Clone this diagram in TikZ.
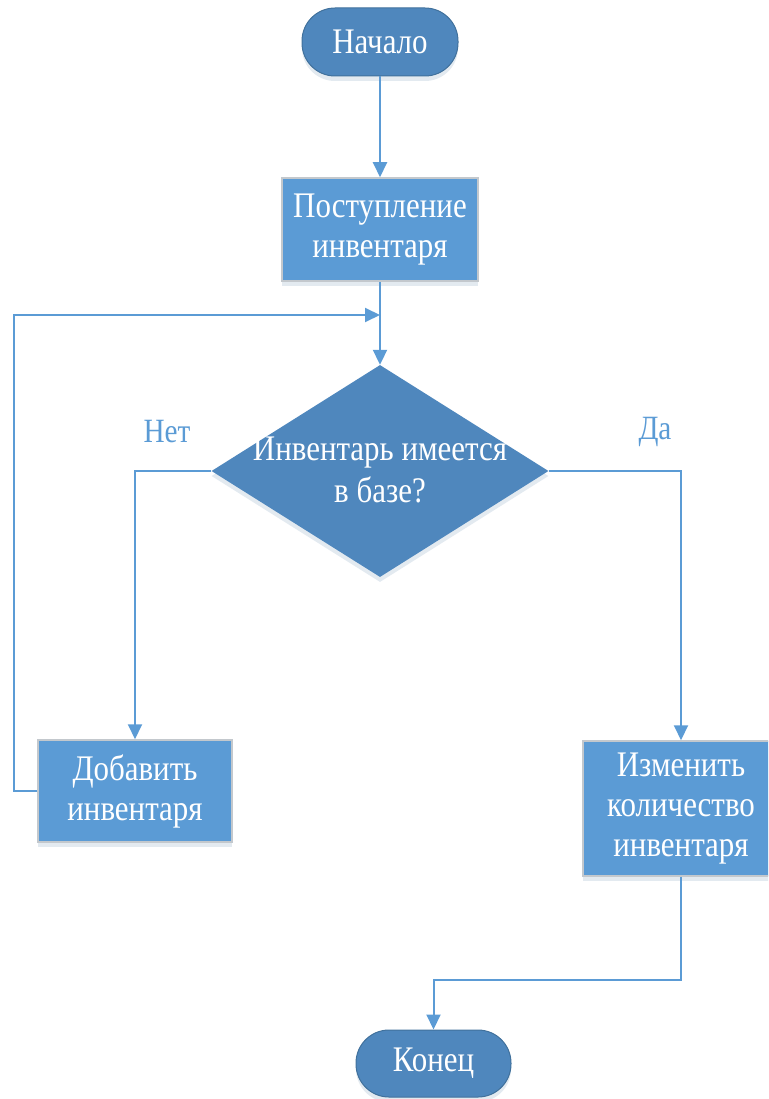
\documentclass[tikz,border=0pt]{standalone}
\usepackage{fontspec}
\setmainfont{Liberation Serif}[FakeStretch=0.86]
\usetikzlibrary{arrows.meta,shapes.geometric,shadows}
\definecolor{lineblue}{RGB}{91,155,213}
\definecolor{boxblue}{RGB}{91,155,213}
\definecolor{darkblue}{RGB}{79,135,189}
\definecolor{edgeblue}{RGB}{65,113,156}
\definecolor{boxedge}{RGB}{195,200,205}
\tikzset{
  softshadow/.style={drop shadow={shadow xshift=0pt, shadow yshift=-5pt, opacity=0.15, fill=edgeblue}},
  terminal/.style={rectangle, rounded corners=33pt, fill=darkblue, draw=edgeblue, line width=1pt,
    text=white, font=\fontsize{36}{40}\selectfont, align=center, softshadow},
  process/.style={rectangle, fill=boxblue, draw=boxedge, line width=1.5pt,
    text=white, font=\fontsize{36}{40}\selectfont, align=center, softshadow},
  decision/.style={diamond, fill=darkblue, draw=none, inner sep=0pt, softshadow},
  dectext/.style={text=white, font=\fontsize{36}{42}\selectfont, align=center},
  flow/.style={draw=lineblue, line width=2pt},
  flowarrow/.style={flow, -{Triangle[width=14pt,length=15pt]}},
  branchlabel/.style={text=lineblue, font=\fontsize{34}{38}\selectfont},
}
\begin{document}
\begin{tikzpicture}[x=1pt,y=-1pt]
  \useasboundingbox (0,0) rectangle (768,1099);
  \begin{scope}
  \clip (0,0) rectangle (768,1099);

  % shapes
  \node[terminal, minimum width=156pt, minimum height=68pt] (start) at (380,42) {Начало};
  \node[process, minimum width=196pt, minimum height=103pt] (recv) at (380,229.5) {Поступление\\инвентаря};
  \node[decision, minimum width=337pt, minimum height=212pt] (dec) at (380,471) {};
  \node[dectext] (dectxt) at (380,470) {Инвентарь имеется\\в базе?};
  \node[process, minimum width=194pt, minimum height=102pt] (add) at (135,791) {Добавить\\инвентаря};
  \node[process, minimum width=196pt, minimum height=135pt] (chg) at (681,808.5) {Изменить\\количество\\инвентаря};
  \node[terminal, minimum width=155pt, minimum height=67pt] (stop) at (433.5,1063.5) {Конец};

  % branch labels
  \node[branchlabel] (no) at (167,432) {Нет};
  \node[branchlabel] (yes) at (655,432) {Да};

  % junction on the trunk where the loop comes back
  \coordinate (loopjoin) at (380,315);

  % connectors
  \draw[flowarrow] (start.south) -- (recv.north);
  \draw[flowarrow] (recv.south) -- (dec.north);
  \draw[flowarrow] (add.west) -- (14,791) |- (loopjoin);
  \draw[flowarrow] (dec.west) -| (add.north);
  \draw[flowarrow] (dec.east) -| (chg.north);
  \draw[flowarrow] (chg.south) -- (681,980) -| (stop.north);
  \end{scope}
\end{tikzpicture}
\end{document}
